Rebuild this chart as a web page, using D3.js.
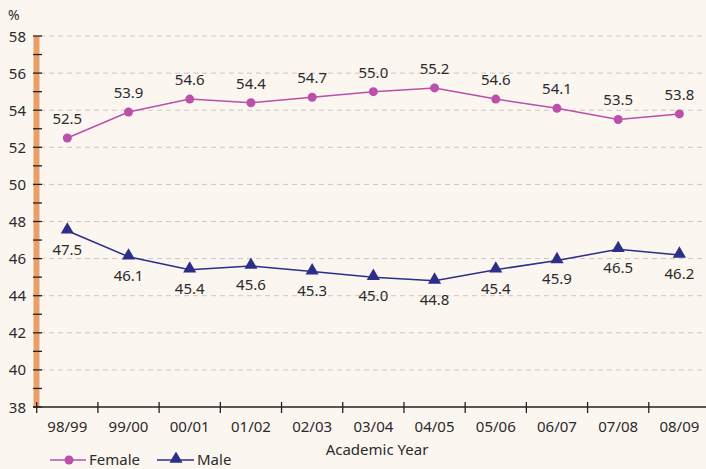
<!DOCTYPE html>
<html>
<head>
<meta charset="utf-8">
<script src="https://cdn.jsdelivr.net/npm/d3@7"></script>
<style>
  body { margin: 0; background: #fcf6f1; }
  text { font-family: "Noto Sans", "Open Sans", sans-serif; fill: #2b2b2b; }
</style>
</head>
<body>
<script>
// data
var years = ["98/99", "99/00", "00/01", "01/02", "02/03", "03/04", "04/05", "05/06", "06/07", "07/08", "08/09"];
var female = [52.5, 53.9, 54.6, 54.4, 54.7, 55.0, 55.2, 54.6, 54.1, 53.5, 53.8];
var male = [47.5, 46.1, 45.4, 45.6, 45.3, 45.0, 44.8, 45.4, 45.9, 46.5, 46.2];
var yTicks = [38, 40, 42, 44, 46, 48, 50, 52, 54, 56, 58];

var width = 706, height = 469;
var femaleColor = "#bb4fa9", maleColor = "#2b2f87";

var svg = d3.select("body").append("svg")
    .attr("width", width)
    .attr("height", height);

var x = d3.scaleBand().domain(years).range([36.7, 710]);
var y = d3.scaleLinear().domain([38, 58]).range([407, 36]);

// dashed grid
svg.append("g")
    .selectAll("line")
    .data(yTicks.slice(1))
    .enter().append("line")
    .attr("x1", 40).attr("x2", width)
    .attr("y1", d => y(d)).attr("y2", d => y(d))
    .attr("stroke", "#cbc7c3")
    .attr("stroke-width", 1)
    .attr("stroke-dasharray", "5,4");

// orange y axis bar
svg.append("rect")
    .attr("x", 33.5).attr("y", y(58))
    .attr("width", 6).attr("height", y(38) - y(58))
    .attr("fill", "#e9a068");

// y ticks (every unit)
svg.append("g")
    .selectAll("line")
    .data(d3.range(38, 59))
    .enter().append("line")
    .attr("x1", 33).attr("x2", 42)
    .attr("y1", d => y(d)).attr("y2", d => y(d))
    .attr("stroke", "#222")
    .attr("stroke-width", 1.3);

svg.append("g")
    .selectAll("text")
    .data(yTicks)
    .enter().append("text")
    .attr("x", 26).attr("y", d => y(d) + 5.5)
    .attr("text-anchor", "end")
    .attr("font-size", "15px")
    .text(d => d);

svg.append("text")
    .attr("x", 8).attr("y", 20)
    .attr("font-size", "14px")
    .text("%");

// x axis
var xAxis = svg.append("g")
    .attr("transform", "translate(0," + y(38) + ")");
xAxis.append("line")
    .attr("x1", 33).attr("x2", width)
    .attr("stroke", "#222").attr("stroke-width", 1.3);
xAxis.selectAll(".tk")
    .data(years)
    .enter().append("line")
    .attr("class", "tk")
    .attr("x1", d => x(d)).attr("x2", d => x(d))
    .attr("y1", -5).attr("y2", 6)
    .attr("stroke", "#222").attr("stroke-width", 1.3);
xAxis.selectAll("text")
    .data(years)
    .enter().append("text")
    .attr("x", d => x(d) + x.bandwidth() / 2)
    .attr("y", 25)
    .attr("text-anchor", "middle")
    .attr("font-size", "15px")
    .text(d => d);

svg.append("text")
    .attr("x", 377).attr("y", 455)
    .attr("text-anchor", "middle")
    .attr("font-size", "15px")
    .text("Academic Year");

var cx = (d, i) => x(years[i]) + x.bandwidth() / 2;
var line = d3.line().x(cx).y(d => y(d));

// female series
svg.append("path")
    .datum(female)
    .attr("d", line)
    .attr("fill", "none")
    .attr("stroke", femaleColor)
    .attr("stroke-width", 1.5);
svg.append("g").selectAll("circle")
    .data(female)
    .enter().append("circle")
    .attr("cx", cx).attr("cy", d => y(d))
    .attr("r", 4.5)
    .attr("fill", femaleColor);
svg.append("g").selectAll("text")
    .data(female)
    .enter().append("text")
    .attr("x", cx).attr("y", d => y(d) - 14)
    .attr("text-anchor", "middle")
    .attr("font-size", "15px")
    .text(d => d.toFixed(1));

// male series
var tri = d3.symbol().type(d3.symbolTriangle).size(75);
svg.append("path")
    .datum(male)
    .attr("d", line)
    .attr("fill", "none")
    .attr("stroke", maleColor)
    .attr("stroke-width", 1.5);
svg.append("g").selectAll("path")
    .data(male)
    .enter().append("path")
    .attr("d", tri)
    .attr("transform", (d, i) => "translate(" + cx(d, i) + "," + (y(d) - 1) + ")")
    .attr("fill", maleColor);
svg.append("g").selectAll("text")
    .data(male)
    .enter().append("text")
    .attr("x", cx).attr("y", d => y(d) + 24)
    .attr("text-anchor", "middle")
    .attr("font-size", "15px")
    .text(d => d.toFixed(1));

// legend
var legend = svg.append("g").attr("transform", "translate(0,460)");
legend.append("line").attr("x1", 50).attr("x2", 86).attr("stroke", femaleColor).attr("stroke-width", 1.5);
legend.append("circle").attr("cx", 69).attr("cy", 0).attr("r", 4.5).attr("fill", femaleColor);
legend.append("text").attr("x", 89).attr("y", 5).attr("font-size", "15px").text("Female");
legend.append("line").attr("x1", 157).attr("x2", 194).attr("stroke", maleColor).attr("stroke-width", 1.5);
legend.append("path").attr("d", tri).attr("transform", "translate(176,-1)").attr("fill", maleColor);
legend.append("text").attr("x", 197).attr("y", 5).attr("font-size", "15px").text("Male");
</script>
</body>
</html>
